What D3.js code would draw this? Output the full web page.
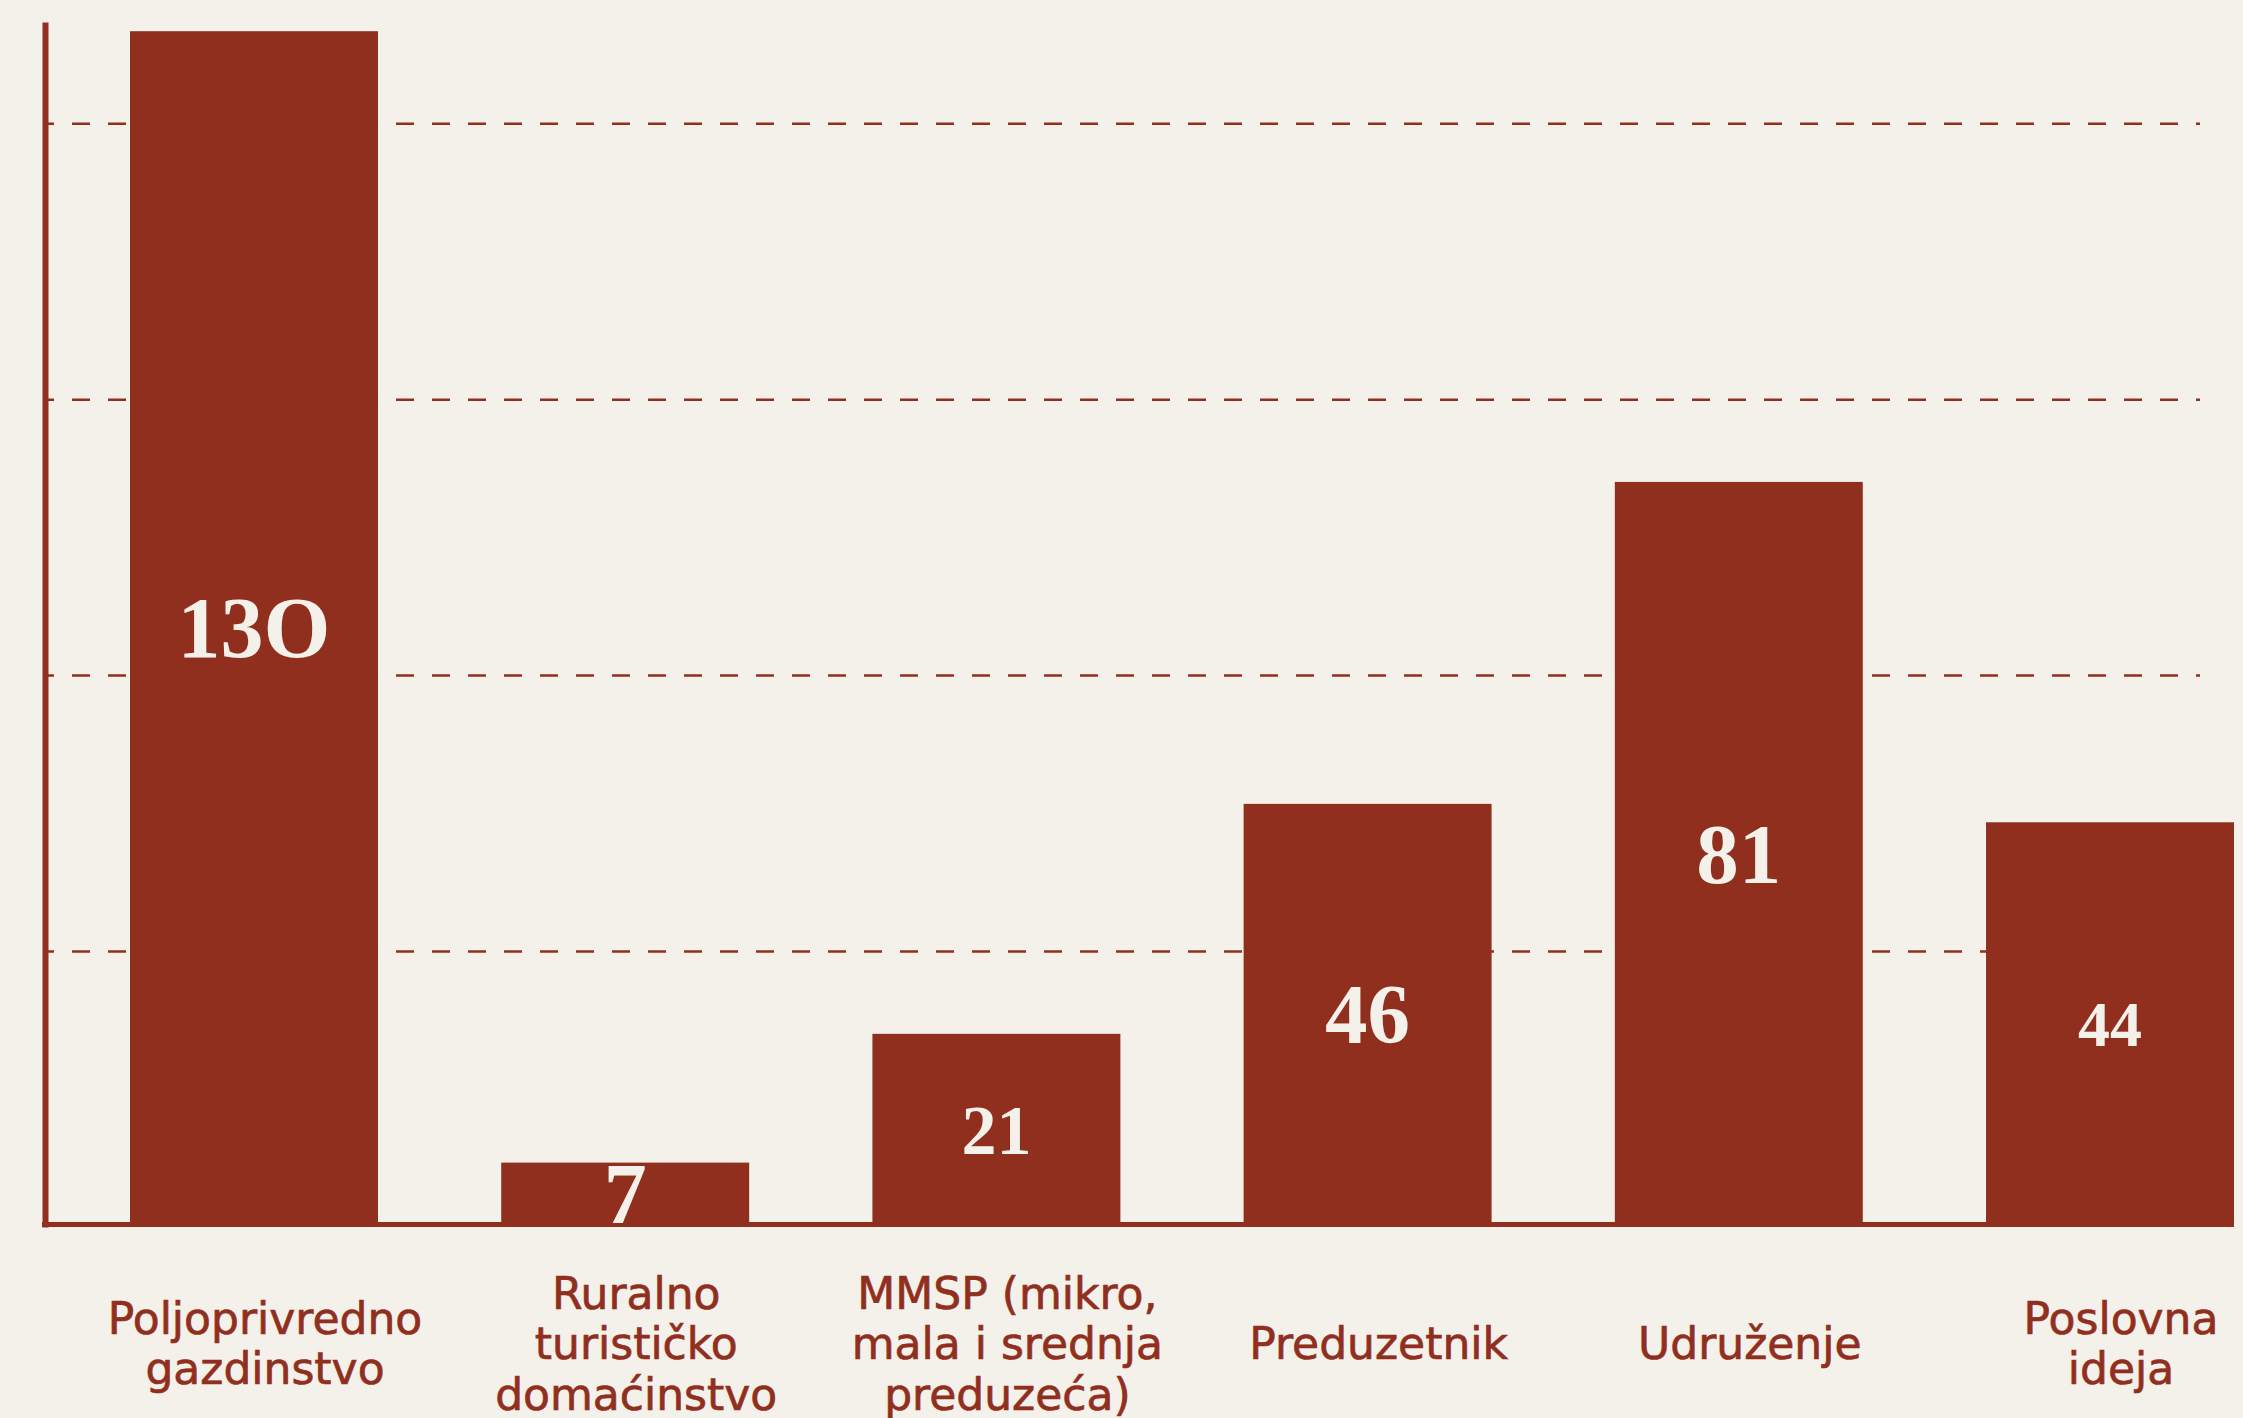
<!DOCTYPE html>
<html>
<head>
<meta charset="utf-8">
<script src="https://cdn.jsdelivr.net/npm/d3@7"></script>
<style>
  html, body { margin: 0; padding: 0; background: #f4f1ea; }
  svg { display: block; }
</style>
</head>
<body>
<div id="chart"></div>
<script>
// data
const categories = [
    "Poljoprivredno gazdinstvo",
    "Ruralno turističko domaćinstvo",
    "MMSP (mikro, mala i srednja preduzeća)",
    "Preduzetnik",
    "Udruženje",
    "Poslovna ideja"
];
const categoryLines = [
    ["Poljoprivredno", "gazdinstvo"],
    ["Ruralno", "turističko", "domaćinstvo"],
    ["MMSP (mikro,", "mala i srednja", "preduzeća)"],
    ["Preduzetnik"],
    ["Udruženje"],
    ["Poslovna", "ideja"]
];
const values = [130, 7, 21, 46, 81, 44];
const valueLabels = ["13O", "7", "21", "46", "81", "44"];
const gridTicks = [30, 60, 90, 120];

// styling
const valueFontSize = [86, 86, 70, 85, 85, 64];
const red = "#912f1f";
const cream = "#f4f1ea";

const W = 2243, H = 1418;

const svg = d3.select("#chart")
    .append("svg")
    .attr("width", W)
    .attr("height", H)
    .style("background", cream);

const x = d3.scaleBand()
    .domain(categories)
    .range([45, 2234])
    .paddingInner(0.332)
    .paddingOuter(0.1145)
    .align(1);

const y = d3.scaleLinear()
    .domain([0, 131])
    .range([1227, 22]);

// dashed grid + left axis line
const yAxis = svg.append("g")
    .attr("transform", "translate(45,0)")
    .call(d3.axisLeft(y)
        .tickValues(gridTicks)
        .tickSize(-(2200 - 45))
        .tickSizeOuter(0)
        .tickFormat(""));

yAxis.selectAll(".tick line")
    .attr("stroke", red)
    .attr("stroke-width", 2.5)
    .attr("stroke-dasharray", "18,18")
    .attr("stroke-dashoffset", 9);

yAxis.select(".domain")
    .attr("stroke", red)
    .attr("stroke-width", 6);

// bars
svg.append("g")
    .selectAll("rect")
    .data(values)
    .enter()
    .append("rect")
    .attr("x", function(d, i) { return x(categories[i]); })
    .attr("y", function(d) { return y(d); })
    .attr("width", x.bandwidth())
    .attr("height", function(d) { return y(0) - y(d); })
    .attr("fill", red);

// baseline
const xAxis = svg.append("g")
    .attr("transform", "translate(0," + 1224.5 + ")")
    .call(d3.axisBottom(x).tickSize(0).tickFormat(""));

xAxis.select(".domain")
    .attr("stroke", red)
    .attr("stroke-width", 5)
    .attr("d", "M42,0H2234");

// value labels inside bars
svg.append("g")
    .selectAll("text")
    .data(values)
    .enter()
    .append("text")
    .attr("x", function(d, i) { return x(categories[i]) + x.bandwidth() / 2; })
    .attr("y", function(d, i) { return y(d / 2) + valueFontSize[i] * 0.33; })
    .attr("text-anchor", "middle")
    .attr("font-family", "'Liberation Serif', 'DejaVu Serif', serif")
    .attr("font-weight", "bold")
    .attr("font-size", function(d, i) { return valueFontSize[i]; })
    .attr("fill", cream)
    .text(function(d, i) { return valueLabels[i]; });

// category labels under the axis
const lineHeight = 50.5;
const labels = svg.append("g")
    .selectAll("text")
    .data(categoryLines)
    .enter()
    .append("text")
    .attr("text-anchor", "middle")
    .attr("font-family", "'DejaVu Sans', sans-serif")
    .attr("font-size", 44)
    .attr("fill", red)
    .attr("stroke", red)
    .attr("stroke-width", 0.7)
    .attr("transform", function(d, i) {
        return "translate(" + (x(categories[i]) + x.bandwidth() / 2 + 11) + "," + 1359 + ")";
    });

labels.selectAll("tspan")
    .data(function(d) { return d; })
    .enter()
    .append("tspan")
    .attr("x", 0)
    .attr("y", function(d, j, nodes) {
        return (j - (nodes.length - 1) / 2) * lineHeight;
    })
    .text(function(d) { return d; });
</script>
</body>
</html>
